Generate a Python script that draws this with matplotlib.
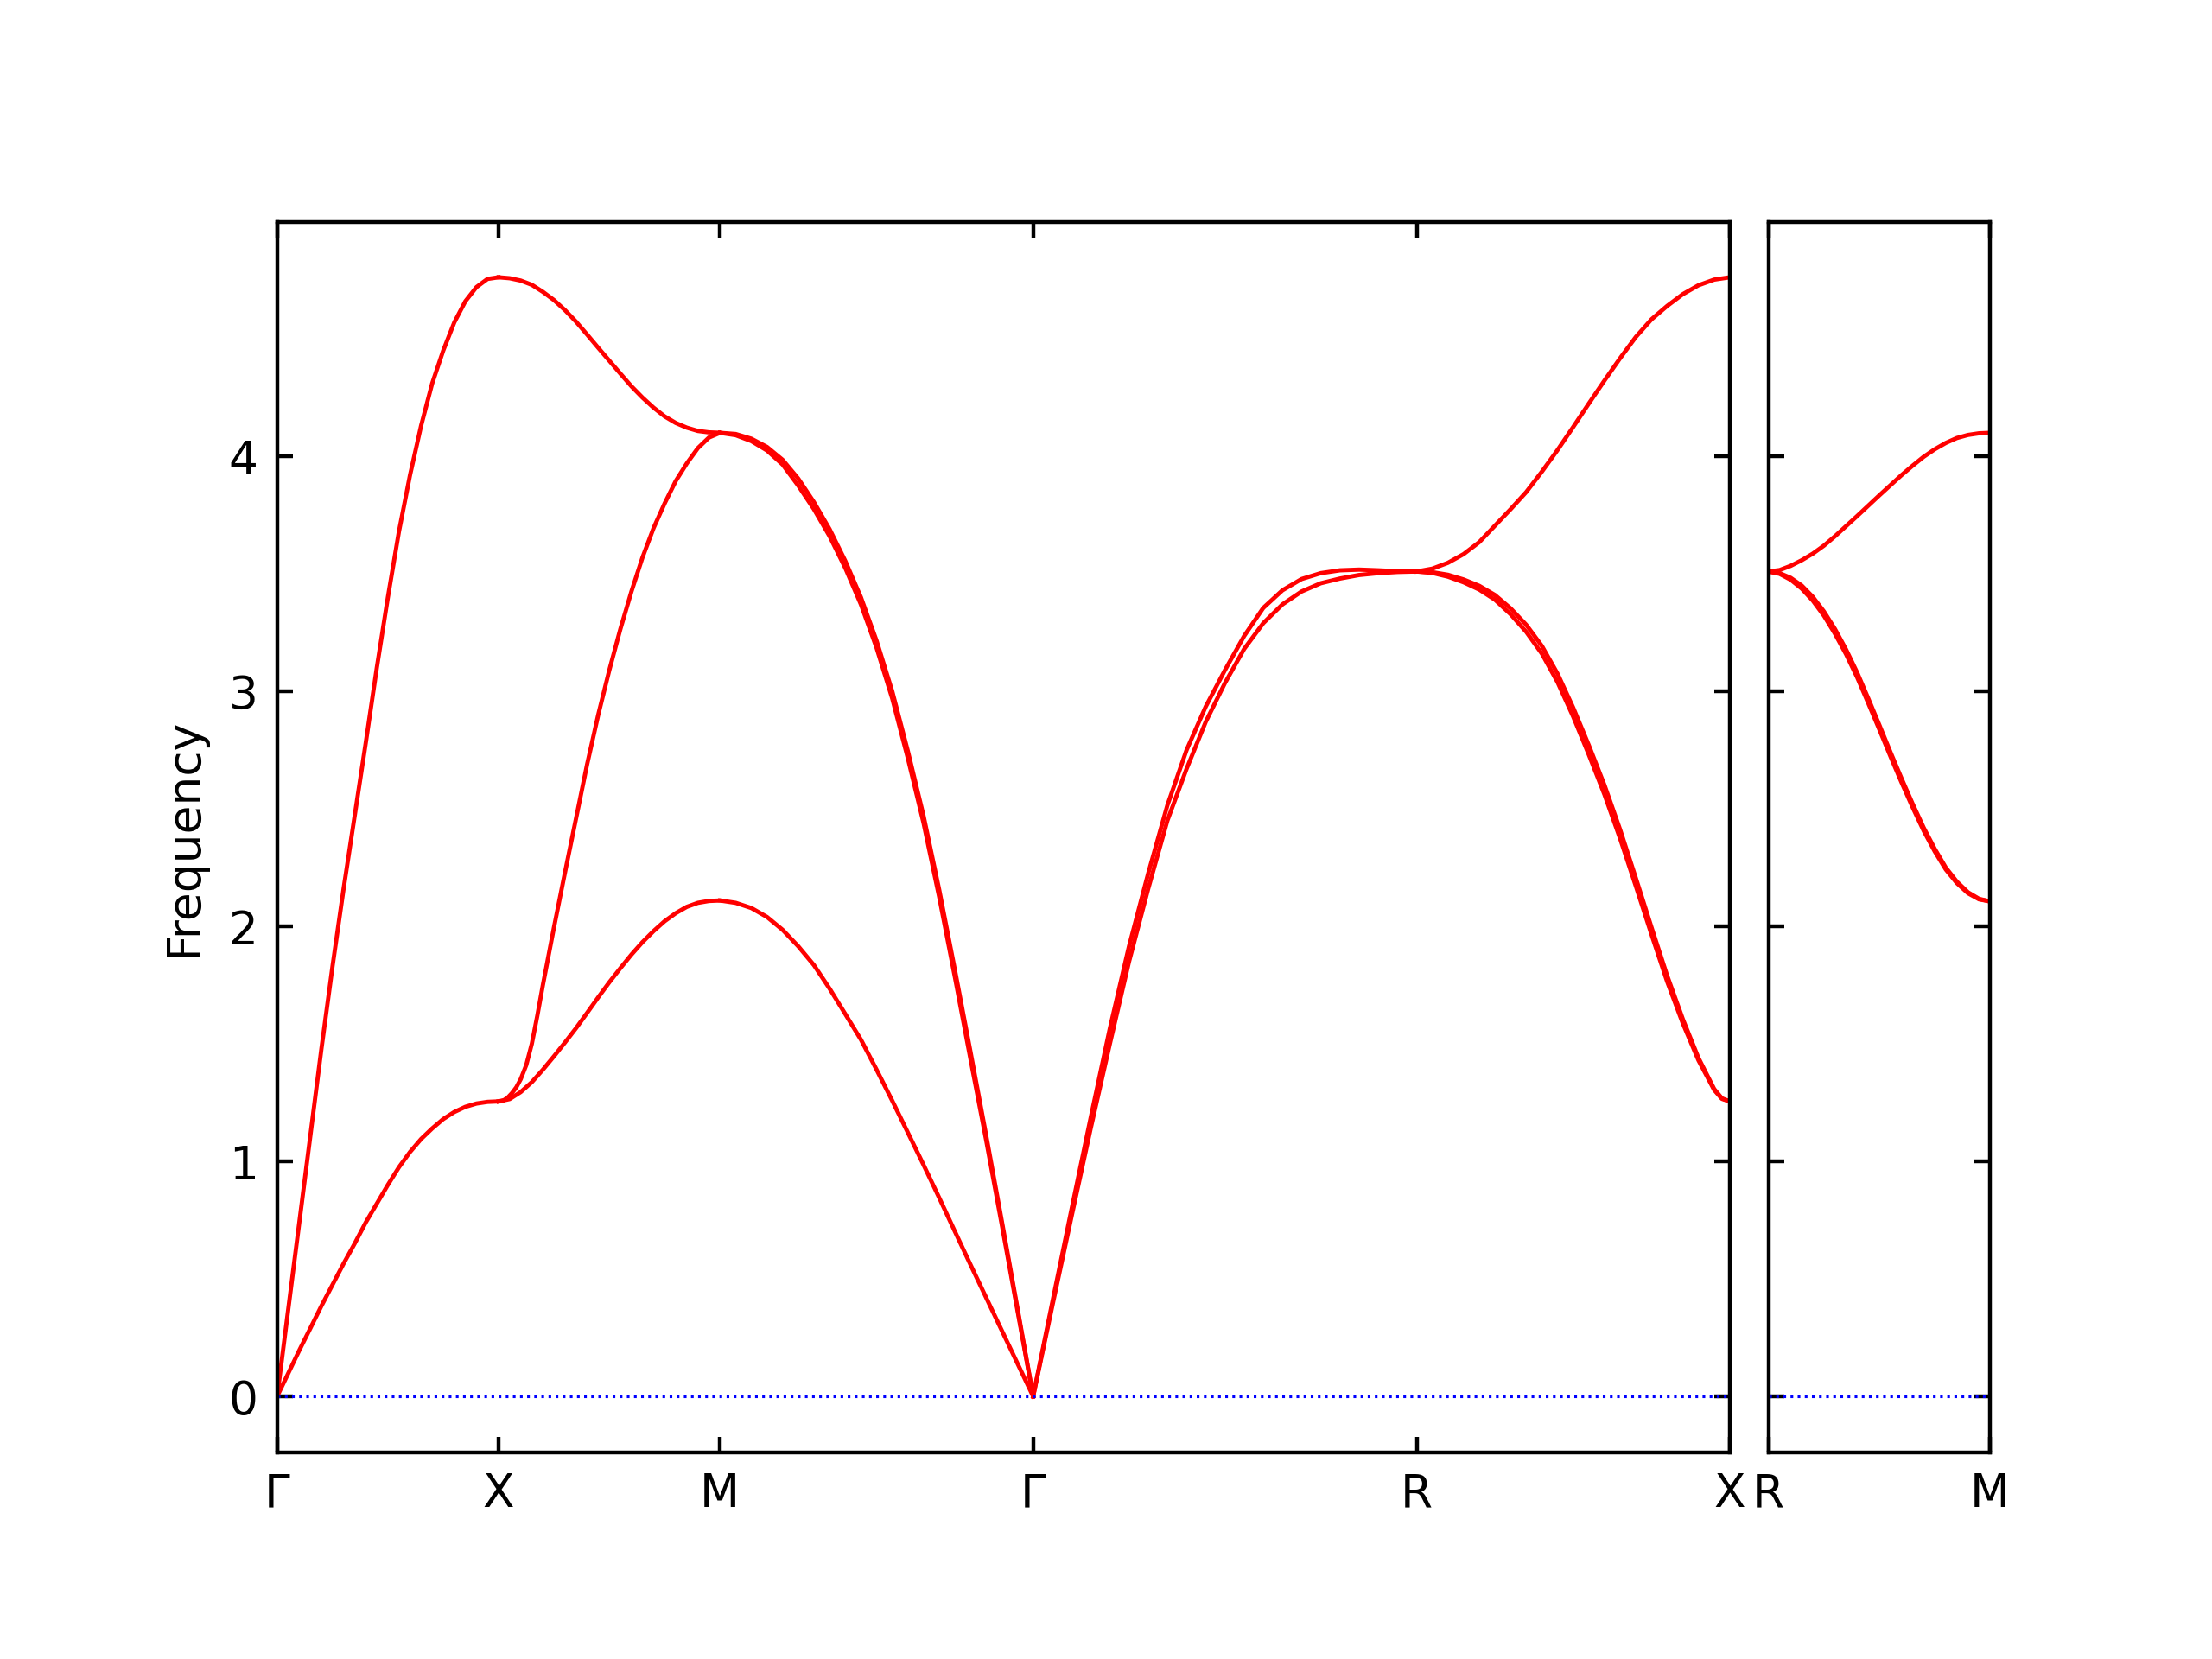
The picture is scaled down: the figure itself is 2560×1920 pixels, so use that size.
import numpy as np
import matplotlib.pyplot as plt

# special points along the path (distance in 1/a)
path_ticks = [0.0, 0.5, 1.0, 1.7071, 2.5731, 3.2802]
path_labels = ['Γ', 'X', 'M', 'Γ', 'R', 'X']
side_ticks = [0.0, 0.5]
side_labels = ['R', 'M']
y_ticks = [0, 1, 2, 3, 4]

# sampling positions inside each segment (fraction of segment length)
seg_frac = [0.0, 0.05, 0.1, 0.15, 0.2, 0.25, 0.3, 0.35, 0.4, 0.45, 0.5,
            0.55, 0.6, 0.65, 0.7, 0.75, 0.8, 0.85, 0.9, 0.95, 1.0]

# Γ - X
gx_f_top = [0.0, 0.37, 0.74, 1.11, 1.48, 1.83, 2.16, 2.47, 2.78, 3.10, 3.40,
            3.68, 3.92, 4.13, 4.31, 4.45, 4.57, 4.66, 4.72, 4.755, 4.762]
gx_f_low = [0.0, 0.098, 0.196, 0.29, 0.385, 0.475, 0.565, 0.65, 0.74, 0.82, 0.90,
            0.975, 1.04, 1.095, 1.14, 1.18, 1.21, 1.232, 1.246, 1.253, 1.255]

# X - M
xm_f_top = [4.762, 4.758, 4.748, 4.73, 4.70, 4.665, 4.622, 4.573, 4.518, 4.462, 4.407,
            4.352, 4.298, 4.250, 4.207, 4.170, 4.142, 4.122, 4.108, 4.102, 4.10]
xm_q_mid = [0.5, 0.51, 0.52, 0.53, 0.54, 0.55, 0.5625, 0.575, 0.5875, 0.60, 0.625, 0.65, 0.675,
            0.70, 0.725, 0.75, 0.775, 0.80, 0.825, 0.85, 0.875, 0.90, 0.925, 0.95, 0.975, 1.0]
xm_f_mid = [1.255, 1.258, 1.27, 1.29, 1.315, 1.35, 1.41, 1.50, 1.62, 1.75, 1.995, 2.23, 2.46,
            2.69, 2.90, 3.09, 3.265, 3.425, 3.57, 3.695, 3.80, 3.895, 3.97, 4.035, 4.08, 4.10]
xm_f_low = [1.255, 1.265, 1.295, 1.337, 1.39, 1.447, 1.506, 1.567, 1.632, 1.698, 1.762,
            1.822, 1.88, 1.933, 1.98, 2.022, 2.056, 2.083, 2.10, 2.108, 2.11]

# M - Γ
mg_f_top = [4.10, 4.095, 4.075, 4.04, 3.985, 3.905, 3.805, 3.69, 3.555, 3.40, 3.215,
            3.00, 2.745, 2.47, 2.155, 1.815, 1.465, 1.11, 0.745, 0.375, 0.0]
mg_f_top2 = [4.10, 4.09, 4.065, 4.025, 3.965, 3.875, 3.775, 3.66, 3.525, 3.37, 3.185,
             2.97, 2.715, 2.44, 2.125, 1.785, 1.435, 1.09, 0.73, 0.365, 0.0]
mg_f_low = [2.11, 2.10, 2.078, 2.04, 1.985, 1.915, 1.835, 1.735, 1.627, 1.518, 1.39,
            1.258, 1.122, 0.985, 0.845, 0.702, 0.56, 0.42, 0.28, 0.14, 0.0]

# Γ - R
gr_f_a = [0.0, 0.40, 0.795, 1.185, 1.565, 1.915, 2.225, 2.515, 2.75, 2.935, 3.09,
          3.235, 3.355, 3.43, 3.478, 3.503, 3.515, 3.518, 3.515, 3.511, 3.51]
gr_f_b = [0.0, 0.385, 0.765, 1.14, 1.50, 1.85, 2.16, 2.45, 2.67, 2.87, 3.035,
          3.18, 3.29, 3.37, 3.425, 3.46, 3.48, 3.495, 3.503, 3.508, 3.51]

# R - X
rx_f_top = [3.51, 3.522, 3.547, 3.584, 3.635, 3.705, 3.775, 3.848, 3.935, 4.027, 4.125,
            4.225, 4.323, 4.418, 4.508, 4.583, 4.64, 4.69, 4.728, 4.752, 4.762]
rx_q_low = [2.5731, 2.6085, 2.6438, 2.6792, 2.7145, 2.7499, 2.7853, 2.8206, 2.8560, 2.8913, 2.9267,
            2.9620, 2.9974, 3.0328, 3.0681, 3.1035, 3.1388, 3.1742, 3.2095, 3.2449, 3.2625, 3.2802]
rx_f_low = [3.51, 3.507, 3.496, 3.476, 3.449, 3.41, 3.353, 3.283, 3.193, 3.075, 2.93,
            2.77, 2.60, 2.41, 2.205, 1.995, 1.79, 1.605, 1.44, 1.308, 1.268, 1.255]
rx_f_low2 = [3.51, 3.504, 3.488, 3.464, 3.433, 3.39, 3.328, 3.253, 3.16, 3.039, 2.892,
             2.73, 2.56, 2.372, 2.171, 1.965, 1.765, 1.587, 1.43, 1.304, 1.266, 1.255]

# R - M (separate panel)
rm_f_top = [3.51, 3.516, 3.534, 3.558, 3.586, 3.62, 3.66, 3.703, 3.746, 3.79, 3.834,
            3.877, 3.92, 3.96, 3.998, 4.03, 4.057, 4.078, 4.091, 4.098, 4.10]
rm_f_low = [3.51, 3.503, 3.483, 3.45, 3.402, 3.34, 3.265, 3.178, 3.08, 2.97, 2.857,
            2.742, 2.63, 2.522, 2.42, 2.33, 2.25, 2.19, 2.145, 2.117, 2.106]
rm_f_low2 = [3.51, 3.5, 3.475, 3.437, 3.386, 3.322, 3.245, 3.158, 3.06, 2.95, 2.838,
             2.724, 2.613, 2.507, 2.407, 2.319, 2.242, 2.184, 2.141, 2.115, 2.106]


def seg_q(start, end):
    return [start + t * (end - start) for t in seg_frac]


gx_q = seg_q(path_ticks[0], path_ticks[1])
xm_q = seg_q(path_ticks[1], path_ticks[2])
mg_q = seg_q(path_ticks[2], path_ticks[3])
gr_q = seg_q(path_ticks[3], path_ticks[4])
rx_q = seg_q(path_ticks[4], path_ticks[5])
rm_q = seg_q(side_ticks[0], side_ticks[1])

main_branches = [
    (gx_q, gx_f_top), (gx_q, gx_f_low),
    (xm_q, xm_f_top), (xm_q_mid, xm_f_mid), (xm_q, xm_f_low),
    (mg_q, mg_f_top), (mg_q, mg_f_top2), (mg_q, mg_f_low),
    (gr_q, gr_f_a), (gr_q, gr_f_b),
    (rx_q, rx_f_top), (rx_q_low, rx_f_low), (rx_q_low, rx_f_low2),
]
side_branches = [(rm_q, rm_f_top), (rm_q, rm_f_low), (rm_q, rm_f_low2)]

plt.rcParams['font.size'] = 12
plt.rcParams['axes.linewidth'] = 1.0

fig = plt.figure(figsize=(8, 6), dpi=320)
ax1 = fig.add_axes((0.1253, 0.1246, 0.6567, 0.7417))  # [left, bottom, width, height]
ax2 = fig.add_axes((0.7995, 0.1246, 0.1002, 0.7417))

for q, f in main_branches:
    ax1.plot(q, f, color='r', lw=1.1)
for q, f in side_branches:
    ax2.plot(q, f, color='r', lw=1.1)

for ax, ticks, labels in ((ax1, path_ticks, path_labels), (ax2, side_ticks, side_labels)):
    ax.axhline(0, color='b', ls=':', lw=0.7)
    ax.set_xlim(ticks[0], ticks[-1])
    ax.set_ylim(-0.238, 4.998)
    ax.set_xticks(ticks)
    ax.set_xticklabels(labels)
    ax.set_yticks(y_ticks)
    ax.tick_params(direction='in', top=True, right=True, length=4, width=1.0)
    ax.tick_params(axis='x', pad=5)
    ax.tick_params(axis='y', pad=5)

ax2.set_yticklabels([])
ax1.set_ylabel('Frequency')
ax1.yaxis.set_label_coords(-0.049, 0.5)

plt.savefig('out.png')
plt.close()
